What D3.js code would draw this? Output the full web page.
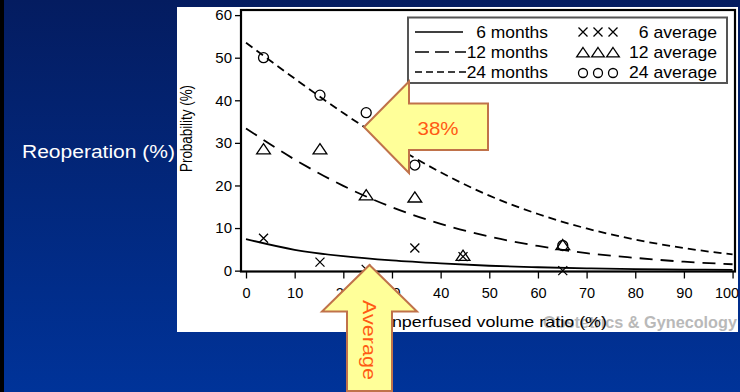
<!DOCTYPE html>
<html><head><meta charset="utf-8">
<script src="https://cdn.jsdelivr.net/npm/d3@7"></script>
<style>
html,body{margin:0;padding:0;background:#003399;}
svg{display:block;font-family:"Liberation Sans",Arial,sans-serif;}
</style></head>
<body><svg id="c" width="740" height="392"></svg>
<script>
// ---- data ----
const curveX = [0,10,20,30,40,50,60,70,80,90,100];
const months6  = [7.4,4.9,3.4,2.4,1.7,1.15,0.8,0.55,0.37,0.26,0.18];
const months12 = [33.4,26.1,19.9,14.9,11.0,8.0,5.8,4.1,3.0,2.1,1.5];
const months24 = [53.5,45.1,37.0,29.6,23.1,17.6,13.3,9.9,7.3,5.3,3.8];
const avgX   = [3.6,15.2,24.7,34.7,44.6,65.1];
const avg6   = [7.6,2.0,0.3,5.3,3.3,0];
const avg12  = [28.4,28.4,17.6,17.1,3.4,5.9];
const avg24  = [50,41.2,37.1,24.8,null,5.9];
const xTicks = [0,10,20,30,40,50,60,70,80,90,100];
const yTicks = [0,10,20,30,40,50,60];
const legendLines = ["6 months","12 months","24 months"];
const legendMarks = ["6 average","12 average","24 average"];

const svg = d3.select("#c");
const defs = svg.append("defs");
const gr = defs.append("linearGradient").attr("id","bg").attr("x1",0).attr("y1",0).attr("x2",0).attr("y2",1);
gr.append("stop").attr("offset","0%").attr("stop-color","#041c60");
gr.append("stop").attr("offset","100%").attr("stop-color","#003399");
svg.append("rect").attr("width",740).attr("height",392).attr("fill","url(#bg)");
svg.append("rect").attr("x",0).attr("y",0).attr("width",4).attr("height",392).attr("fill","#000");

function stxt(g, s, x, y, size, opts={}){
  const t = g.append("text")
    .attr("transform",`translate(${x},${y}) rotate(${opts.rot||0}) scale(${opts.sx||1},1)`)
    .attr("text-anchor",opts.anchor||"start")
    .style("font-size",size+"px")
    .style("font-weight",opts.weight||"normal")
    .attr("fill",opts.fill||"#000")
    .text(s);
  if(opts.len) t.attr("textLength",opts.len).attr("lengthAdjust","spacingAndGlyphs");
  return t;
}

// white picture panel
svg.append("rect").attr("x",177).attr("y",7).attr("width",561).attr("height",325).attr("fill","#fff");

// side label
stxt(svg,"Reoperation (%)",22,157.5,17.5,{fill:"#fff",len:153});

const x = d3.scaleLinear().domain([-1.03,100.5]).range([241,735]);
const y = d3.scaleLinear().domain([-0.2,61.2]).range([271.5,10]);

// watermark
stxt(svg,"Obstetrics & Gynecology",737,327.5,17,{anchor:"end",fill:"#b9b9b9",weight:"bold",len:194});

// axes
const gy = svg.append("g").attr("transform",`translate(${x.range()[0]},0)`);
gy.call(d3.axisLeft(y).tickValues(d3.range(0,61,2)).tickSize(4).tickFormat(""));
gy.call(d3.axisLeft(y).tickValues(yTicks).tickSize(6).tickPadding(3));
gy.selectAll(".domain").remove();
gy.selectAll("text").style("font-size","15px").style("font-family","Liberation Sans, Arial").attr("fill","#000");
gy.selectAll("line").attr("stroke","#000").attr("stroke-width",1.3);

const gx = svg.append("g").attr("transform",`translate(0,${y.range()[0]})`);
gx.call(d3.axisBottom(x).tickValues(d3.range(0,101,2)).tickSize(4).tickFormat(""));
gx.call(d3.axisBottom(x).tickValues(xTicks).tickSize(7).tickPadding(9));
gx.selectAll(".domain").remove();
gx.selectAll("text").style("font-size","14.5px").style("font-family","Liberation Sans, Arial").attr("fill","#000")
  .attr("dx",d=>d===100?-6:0);
gx.selectAll("line").attr("stroke","#000").attr("stroke-width",1.3);

// frame
svg.append("rect").attr("x",241).attr("y",10).attr("width",494).attr("height",261.5)
  .attr("fill","none").attr("stroke","#000").attr("stroke-width",2.2);

// titles
stxt(svg,"Probability (%)",192,128.5,16.5,{anchor:"middle",rot:-90,len:87});
stxt(svg,"Nonperfused volume ratio (%)",488,327,15,{anchor:"middle",len:238});

// curves
const line = d3.line().x(d=>x(d[0])).y(d=>y(d[1])).curve(d3.curveMonotoneX);
const series = [[months6,null],[months12,"13,8"],[months24,"8,5"]];
series.forEach(([vals,dash])=>{
  svg.append("path").datum(curveX.map((cx,i)=>[cx,vals[i]]))
    .attr("d",line).attr("fill","none").attr("stroke","#000").attr("stroke-width",1.8)
    .attr("stroke-dasharray",dash);
});

// markers
function drawX(g,cx,cy,s){
  g.append("path").attr("d",`M${cx-s},${cy-s}L${cx+s},${cy+s}M${cx-s},${cy+s}L${cx+s},${cy-s}`)
    .attr("stroke","#000").attr("stroke-width",1.3).attr("fill","none");
}
function drawT(g,cx,cy,s){
  g.append("path").attr("d",`M${cx},${cy-s}L${cx+s*1.15},${cy+s*0.7}L${cx-s*1.15},${cy+s*0.7}Z`)
    .attr("stroke","#000").attr("stroke-width",1.3).attr("fill","none");
}
function drawO(g,cx,cy,r){
  g.append("circle").attr("cx",cx).attr("cy",cy).attr("r",r)
    .attr("stroke","#000").attr("stroke-width",1.3).attr("fill","none");
}
const gm = svg.append("g");
avgX.forEach((vx,i)=>{
  if(avg6[i]!=null) drawX(gm,x(vx),y(avg6[i]),4.5);
  if(avg12[i]!=null) drawT(gm,x(vx),y(avg12[i]),6);
  if(avg24[i]!=null) drawO(gm,x(vx),y(avg24[i]),5);
});

// legend
const lg = svg.append("g");
lg.append("rect").attr("x",408).attr("y",17.5).attr("width",319).attr("height",65.5)
  .attr("fill","#fff").attr("stroke","#555").attr("stroke-width",2);
const dashes=[null,"14,6","7,4"];
legendLines.forEach((s,i)=>{
  const cy = 32 + i*20;
  lg.append("line").attr("x1",415).attr("x2",i===0?463:466).attr("y1",cy).attr("y2",cy)
    .attr("stroke","#000").attr("stroke-width",1.6).attr("stroke-dasharray",dashes[i]);
  stxt(lg,s,548,cy+5.5,16,{anchor:"end",sx:1.09});
});
legendMarks.forEach((s,i)=>{
  const cy = 32 + i*20;
  [583,598,613].forEach(mx=>{
    if(i===0) drawX(lg,mx,cy,4.5);
    else if(i===1) drawT(lg,mx,cy+1,5.5);
    else drawO(lg,mx,cy+1,4.5);
  });
  stxt(lg,s,717,cy+5.5,16,{anchor:"end",sx:1.1});
});

// callout arrows
const arrowFill="#ffff99", arrowStroke="#c0724a", arrowText="#ff5a14";
svg.append("path").attr("d","M364,127L409,81.5L409,103.5L488,103.5L488,150L409,150L409,173Z")
  .attr("fill",arrowFill).attr("stroke",arrowStroke).attr("stroke-width",2);
stxt(svg,"38%",438,135,19,{anchor:"middle",fill:arrowText,len:41});
svg.append("path").attr("d","M369.5,265L417,311.5L392,311.5L392,391L347,391L347,311.5L322,311.5Z")
  .attr("fill",arrowFill).attr("stroke",arrowStroke).attr("stroke-width",2);
stxt(svg,"Average",363,340,19,{anchor:"middle",fill:arrowText,rot:90,len:80});
</script></body></html>
